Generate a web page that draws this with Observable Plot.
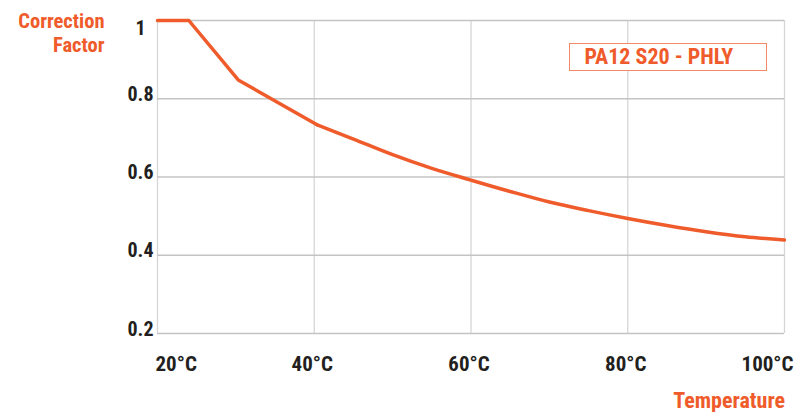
<!DOCTYPE html>
<html><head><meta charset="utf-8">
<script src="https://cdn.jsdelivr.net/npm/d3@7"></script>
<script src="https://cdn.jsdelivr.net/npm/@observablehq/plot@0.6"></script>
<style>
body{margin:0;background:#fff;}
#wrap{position:relative;width:809px;height:412px;font-family:"Liberation Sans Narrow","Roboto Condensed","Liberation Sans",sans-serif;font-weight:bold;color:#ef5b2a;}
#wrap svg{position:absolute;left:0;top:0;}
.xtitle{position:absolute;right:24px;top:392px;font-size:22px;line-height:18px;text-align:right;white-space:nowrap;}
.legend{position:absolute;left:569px;top:43px;width:181px;height:26px;border:1.5px solid #f28a66;background:#fff;font-size:22px;line-height:26px;padding-left:14.5px;box-sizing:content-box;white-space:nowrap;}
</style></head><body><div id="wrap"></div>
<script>
const temps  = [20, 24, 30.3, 40.3, 45, 50, 55, 60, 65, 70, 75, 80, 85, 90, 95, 100];
const factor = [1, 1, 0.848, 0.734, 0.697, 0.657, 0.622, 0.592, 0.563, 0.536, 0.514, 0.494, 0.476, 0.460, 0.447, 0.439];
const yTicks = [0.2, 0.4, 0.6, 0.8, 1];
const xTicks = [20, 40, 60, 80, 100];
const xTickLabels = ["20°C", "40°C", "60°C", "80°C", "100°C"];
const seriesName = "PA12 S20 - PHLY";
const yTitle = ["Correction", "Factor"];
const xTitle = "Temperature";

const orange = "#ef5b2a";
const dark = "#231f20";
const font = '"Liberation Sans Narrow","Roboto Condensed","Liberation Sans",sans-serif';
const data = temps.map((t, i) => ({t, f: factor[i]}));
const kinkT = temps[3];
const xFmt = d => xTickLabels[xTicks.indexOf(d)];
const yFmt = d => d === 1 ? "1" : String(d);

const axisCommon = {tickSize: 0, fill: dark, fontSize: 20, label: null, tickFormat: yFmt, textAnchor: "middle", tickPadding: 17};
const xCommon = {tickSize: 0, fill: dark, fontSize: 21, label: null, tickFormat: xFmt, lineAnchor: "top", tickPadding: 23};

const plot = Plot.plot({
  width: 809, height: 412,
  marginLeft: 157, marginRight: 25, marginTop: 20, marginBottom: 79,
  x: {domain: [20, 100]},
  y: {domain: [0.2, 1]},
  style: {fontFamily: font, fontWeight: "bold", background: "transparent", overflow: "visible"},
  marks: [
    Plot.ruleX(xTicks, {x: d => d, stroke: "#d6d6d6", strokeWidth: 1.3}),
    Plot.ruleY(yTicks, {y: d => d, stroke: "#c4c4c4", strokeWidth: 1.3}),
    Plot.axisY(yTicks.filter(d => d < 1), {...axisCommon, lineAnchor: "bottom", dy: 2}),
    Plot.axisY(yTicks.filter(d => d === 1), {...axisCommon, lineAnchor: "top", dy: 0}),
    Plot.axisX(xTicks.filter(d => d === 20), {...xCommon, textAnchor: "start", dx: -2}),
    Plot.axisX(xTicks.filter(d => d > 20 && d < 100), {...xCommon, textAnchor: "middle", dx: -2}),
    Plot.axisX(xTicks.filter(d => d === 100), {...xCommon, textAnchor: "end", dx: 9}),
    Plot.text([yTitle.join("\n")], {frameAnchor: "top-left", text: d => d, textAnchor: "end", lineAnchor: "top",
      dx: -53, dy: -9.5, fontSize: 20.5, lineHeight: 1.18, fill: orange}),
    Plot.line(data.filter(d => d.t <= kinkT), {x: "t", y: "f", stroke: orange, strokeWidth: 3.5, curve: "linear"}),
    Plot.line(data.filter(d => d.t >= kinkT), {x: "t", y: "f", stroke: orange, strokeWidth: 3.5, curve: "monotone-x"})
  ]
});

const wrap = document.getElementById("wrap");
wrap.appendChild(plot);
const xt = document.createElement("div");
xt.className = "xtitle";
xt.textContent = xTitle;
wrap.appendChild(xt);
const lg = document.createElement("div");
lg.className = "legend";
lg.textContent = seriesName;
wrap.appendChild(lg);
</script>
</body></html>
